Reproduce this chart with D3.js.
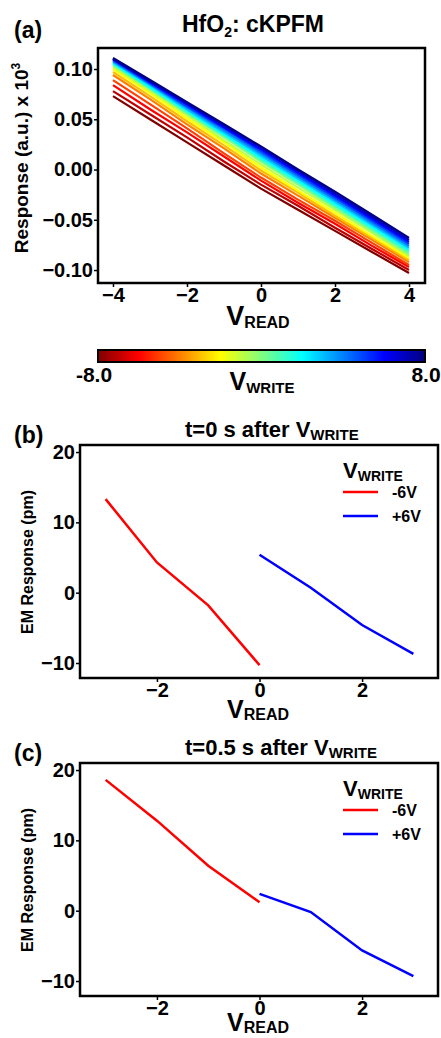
<!DOCTYPE html>
<html>
<head>
<meta charset="utf-8">
<script src="https://cdn.jsdelivr.net/npm/d3@7/dist/d3.min.js"></script>
<style>
body { margin: 0; background: #fff; }
svg { display: block; font-family: "Liberation Sans", Arial, sans-serif; font-weight: bold; }
</style>
</head>
<body>
<div id="chart"></div>
<script>
// (a) HfO2 cKPFM: response vs V_READ, one line per V_WRITE
var a_read = [-4, -3, -2, -1, 0, 1, 2, 3, 4];
var a_resp_m8 = [0.073, 0.050, 0.027, 0.004, -0.019, -0.040, -0.061, -0.082, -0.103];
var a_resp_m7 = [0.078, 0.055, 0.032, 0.008, -0.015, -0.036, -0.058, -0.079, -0.100];
var a_resp_m6 = [0.084, 0.060, 0.037, 0.013, -0.011, -0.033, -0.054, -0.076, -0.097];
var a_resp_m5 = [0.089, 0.065, 0.041, 0.016, -0.008, -0.030, -0.051, -0.073, -0.095];
var a_resp_m4 = [0.094, 0.070, 0.045, 0.021, -0.004, -0.026, -0.048, -0.070, -0.092];
var a_resp_m3 = [0.097, 0.073, 0.048, 0.024, -0.001, -0.023, -0.046, -0.068, -0.090];
var a_resp_m2 = [0.100, 0.076, 0.051, 0.027, 0.002, -0.021, -0.043, -0.066, -0.088];
var a_resp_m1 = [0.102, 0.078, 0.054, 0.029, 0.005, -0.018, -0.040, -0.063, -0.086];
var a_resp_0 = [0.104, 0.080, 0.056, 0.032, 0.008, -0.015, -0.038, -0.061, -0.084];
var a_resp_p1 = [0.105, 0.081, 0.057, 0.034, 0.010, -0.013, -0.036, -0.059, -0.082];
var a_resp_p2 = [0.106, 0.082, 0.059, 0.035, 0.012, -0.011, -0.034, -0.057, -0.080];
var a_resp_p3 = [0.107, 0.084, 0.060, 0.037, 0.014, -0.009, -0.032, -0.055, -0.078];
var a_resp_p4 = [0.108, 0.085, 0.062, 0.039, 0.016, -0.007, -0.030, -0.053, -0.076];
var a_resp_p5 = [0.109, 0.086, 0.063, 0.041, 0.018, -0.005, -0.028, -0.051, -0.074];
var a_resp_p6 = [0.110, 0.087, 0.065, 0.042, 0.020, -0.003, -0.026, -0.049, -0.072];
var a_resp_p7 = [0.110, 0.088, 0.066, 0.044, 0.022, -0.001, -0.024, -0.047, -0.070];
var a_resp_p8 = [0.111, 0.089, 0.067, 0.045, 0.023, 0.000, -0.022, -0.045, -0.068];
var a_write = [-8, -7, -6, -5, -4, -3, -2, -1, 0, 1, 2, 3, 4, 5, 6, 7, 8];
var a_resp = [a_resp_m8, a_resp_m7, a_resp_m6, a_resp_m5, a_resp_m4, a_resp_m3, a_resp_m2, a_resp_m1,
	a_resp_0, a_resp_p1, a_resp_p2, a_resp_p3, a_resp_p4, a_resp_p5, a_resp_p6, a_resp_p7, a_resp_p8];
var a_xticks = [-4, -2, 0, 2, 4];
var a_yticks = [-0.10, -0.05, 0.00, 0.05, 0.10];

// (b) t=0 s and (c) t=0.5 s after V_WRITE
var em_read_neg = [-3, -2, -1, 0];
var em_read_pos = [0, 1, 2, 3];
var b_neg = [13.3, 4.3, -1.8, -10.3];
var b_pos = [5.4, 0.7, -4.6, -8.7];
var c_neg = [18.6, 12.8, 6.4, 1.2];
var c_pos = [2.4, -0.2, -5.65, -9.3];
var em_xticks = [-2, 0, 2];
var em_yticks = [-10, 0, 10, 20];

chart_width = 441;
chart_height = 1038;

// jet colormap, reversed (-8 dark red ... +8 dark blue)
jet = d3.scaleLinear()
	.domain([-8, -6, -2, 2, 6, 8])
	.range(['#800000', '#ff0000', '#ffff00', '#00ffff', '#0000ff', '#000080']);

svg = d3.select('#chart')
	.append('svg')
	.attr('width', chart_width)
	.attr('height', chart_height);

function sub_text(g, x, y, main, sub, big, small, anchor, shift) {
	var t = g.append('text')
		.attr('x', x)
		.attr('y', y)
		.attr('text-anchor', anchor || 'start');
	t.append('tspan').attr('font-size', big).text(main);
	t.append('tspan').attr('font-size', small).attr('dy', shift == null ? small * 0.3 : shift).text(sub);
	return t;
}

function frame(g, x, y, xticks, yticks, yfmt) {
	var r = x.range(), d = y.range();
	g.append('g')
		.attr('transform', 'translate(0,' + d[0] + ')')
		.call(d3.axisBottom(x).tickValues(xticks).tickSize(4).tickPadding(1).tickFormat(d3.format('d')))
		.call(function(a) { a.select('.domain').remove(); });
	g.append('g')
		.attr('transform', 'translate(' + r[0] + ',0)')
		.call(d3.axisLeft(y).tickValues(yticks).tickSize(4).tickPadding(1).tickFormat(yfmt))
		.call(function(a) { a.select('.domain').remove(); });
	g.selectAll('.tick line').attr('stroke', '#000').attr('stroke-width', 1.5);
	g.selectAll('.tick text')
		.attr('fill', '#000')
		.attr('font-size', 20)
		.attr('font-family', '"Liberation Sans", Arial, sans-serif')
		.attr('font-weight', 'bold');
	g.append('rect')
		.attr('x', r[0])
		.attr('y', d[1])
		.attr('width', r[1] - r[0])
		.attr('height', d[0] - d[1])
		.attr('fill', 'none')
		.attr('stroke', '#000')
		.attr('stroke-width', 2.5);
}

// ---------- panel (a)
ga = svg.append('g');
xa = d3.scaleLinear().domain([-4.405, 4.432]).range([98, 425]);
ya = d3.scaleLinear().domain([-0.1129, 0.1209]).range([283, 48]);

line_a = d3.line()
	.x((d, i) => xa(a_read[i]))
	.y((d) => ya(d));

ga.selectAll('path.resp')
	.data(a_resp)
	.enter()
	.append('path')
	.attr('class', 'resp')
	.attr('d', line_a)
	.attr('fill', 'none')
	.attr('stroke', (d, i) => jet(a_write[i]))
	.attr('stroke-width', 2.2);

frame(ga, xa, ya, a_xticks, a_yticks, d3.format('.2f'));

ga.append('text').attr('x', 14).attr('y', 38).attr('font-size', 23).text('(a)');
ta = ga.append('text').attr('x', 182).attr('y', 32).attr('font-size', 23);
ta.append('tspan').text('HfO');
ta.append('tspan').attr('font-size', 14).attr('dy', 5).text('2');
ta.append('tspan').attr('dy', -5).text(': cKPFM');

yl = ga.append('text')
	.attr('transform', 'translate(28,158) rotate(-90)')
	.attr('text-anchor', 'middle')
	.attr('font-size', 19);
yl.append('tspan').text('Response (a.u.) x 10');
yl.append('tspan').attr('font-size', 12).attr('dy', -8).text('3');

sub_text(ga, 258, 325, 'V', 'READ', 27, 16, 'middle', 3);

// colorbar
defs = svg.append('defs');
grad = defs.append('linearGradient').attr('id', 'jet').attr('x1', '0%').attr('x2', '100%');
jet.domain().forEach(function(v) {
	grad.append('stop')
		.attr('offset', ((v + 8) / 16 * 100) + '%')
		.attr('stop-color', jet(v));
});
xc = d3.scaleLinear().domain([-8, 8]).range([98, 425]);
ga.append('rect')
	.attr('x', xc(-8))
	.attr('y', 350)
	.attr('width', xc(8) - xc(-8))
	.attr('height', 12)
	.attr('fill', 'url(#jet)')
	.attr('stroke', '#000')
	.attr('stroke-width', 2);
ga.append('text').attr('x', xc(-8) - 4).attr('y', 382).attr('text-anchor', 'middle').attr('font-size', 21).text('-8.0');
ga.append('text').attr('x', xc(8) + 1).attr('y', 382).attr('text-anchor', 'middle').attr('font-size', 21).text('8.0');
sub_text(ga, 262, 390, 'V', 'WRITE', 25, 15, 'middle', 3);

// ---------- panels (b) and (c)
function em_panel(top, label, title, neg, pos, xlab_y) {
	var g = svg.append('g');
	var x = d3.scaleLinear().domain([-3.5, 3.48]).range([80, 438]);
	var y = d3.scaleLinear().domain([-12.13, 21.0]).range([top + 233, top]);
	var ln = d3.line().x((d) => x(d[0])).y((d) => y(d[1]));

	g.append('path')
		.datum(d3.zip(em_read_neg, neg))
		.attr('d', ln)
		.attr('fill', 'none')
		.attr('stroke', '#ff0000')
		.attr('stroke-width', 2.5);
	g.append('path')
		.datum(d3.zip(em_read_pos, pos))
		.attr('d', ln)
		.attr('fill', 'none')
		.attr('stroke', '#0000ff')
		.attr('stroke-width', 2.5);

	frame(g, x, y, em_xticks, em_yticks, d3.format('d'));

	g.append('text').attr('x', 14).attr('y', top - 2).attr('font-size', 23).text(label);
	sub_text(g, 185, top - 8, title, 'WRITE', 22, 15, 'start', 3);

	g.append('text')
		.attr('transform', 'translate(33,' + (top + 117) + ') rotate(-90)')
		.attr('text-anchor', 'middle')
		.attr('font-size', 16)
		.text('EM Response (pm)');

	sub_text(g, 258, xlab_y, 'V', 'READ', 25, 16, 'middle', 2);

	// legend
	sub_text(g, 343, top + 33, 'V', 'WRITE', 22, 14, 'start', 3);
	[['-6V', '#ff0000'], ['+6V', '#0000ff']].forEach(function(e, i) {
		var ly = top + 47 + i * 24;
		g.append('line')
			.attr('x1', 343).attr('x2', 378)
			.attr('y1', ly).attr('y2', ly)
			.attr('stroke', e[1])
			.attr('stroke-width', 2.5);
		g.append('text').attr('x', 392).attr('y', ly + 6).attr('font-size', 16).text(e[0]);
	});
}

em_panel(445, '(b)', 't=0 s after V', b_neg, b_pos, 718);
em_panel(763, '(c)', 't=0.5 s after V', c_neg, c_pos, 1031);
</script>
</body>
</html>
